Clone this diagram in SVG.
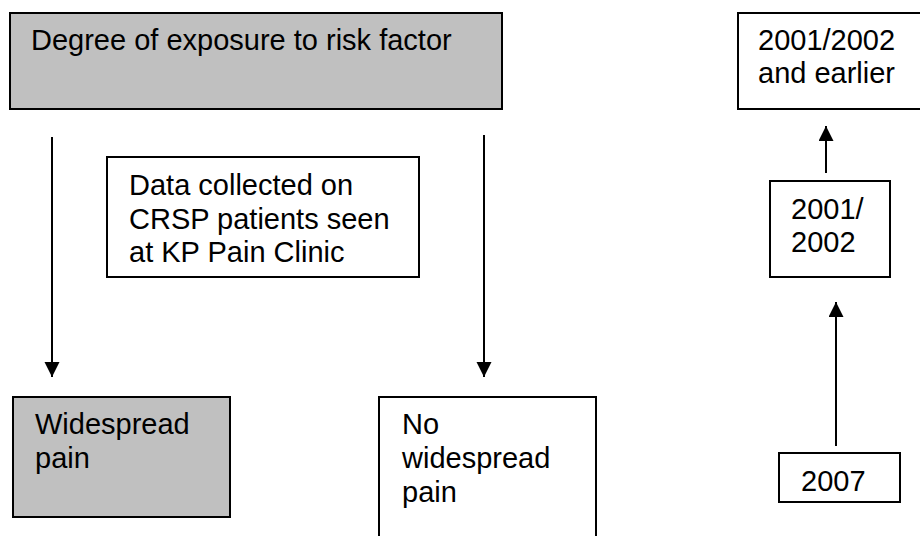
<svg xmlns="http://www.w3.org/2000/svg" width="920" height="536" viewBox="0 0 920 536">
<style>
.box{stroke:#000;stroke-width:2;}
.gray{fill:#c0c0c0;}
.white{fill:#fff;}
text{font-family:"Liberation Sans",Arial,sans-serif;font-size:29px;fill:#000;}
.conn{stroke:#000;stroke-width:2;fill:none;}
</style>
<defs>
<marker id="arr" markerUnits="userSpaceOnUse" markerWidth="16" markerHeight="16" refX="15" refY="7.5" orient="auto">
<path d="M0,0 L15,7.5 L0,15 z" fill="#000"/>
</marker>
</defs>
<rect width="920" height="536" fill="#fff"/>
<g id="connectors">
<line class="conn" x1="52" y1="137" x2="52" y2="377" marker-end="url(#arr)"/>
<line class="conn" x1="484" y1="135" x2="484" y2="377" marker-end="url(#arr)"/>
<line class="conn" x1="826" y1="173" x2="826" y2="126" marker-end="url(#arr)"/>
<line class="conn" x1="836" y1="446" x2="836" y2="302" marker-end="url(#arr)"/>
</g>
<g id="exposure">
<rect class="box gray" x="10" y="13" width="492" height="96"/>
<text x="31" y="50">Degree of exposure to risk factor</text>
</g>
<g id="data">
<rect class="box white" x="107" y="157" width="312" height="120"/>
<text x="129" y="195">Data collected on</text>
<text x="129" y="229">CRSP patients seen</text>
<text x="129" y="262">at KP Pain Clinic</text>
</g>
<g id="widespread">
<rect class="box gray" x="13" y="397" width="217" height="120"/>
<text x="35" y="434">Widespread</text>
<text x="35" y="468">pain</text>
</g>
<g id="nowidespread">
<rect class="box white" x="379" y="397" width="217" height="160"/>
<text x="402" y="434">No</text>
<text x="402" y="468">widespread</text>
<text x="402" y="502">pain</text>
</g>
<g id="earlier">
<rect class="box white" x="738" y="13" width="200" height="96"/>
<text x="758" y="50">2001/2002</text>
<text x="758" y="83">and earlier</text>
</g>
<g id="y2001">
<rect class="box white" x="770" y="181" width="120" height="96"/>
<text x="791" y="219">2001/</text>
<text x="791" y="252">2002</text>
</g>
<g id="y2007">
<rect class="box white" x="779" y="453" width="121" height="49"/>
<text x="801" y="491">2007</text>
</g>
</svg>
